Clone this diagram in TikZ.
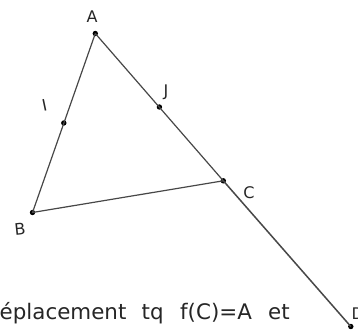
\documentclass[tikz,border=0pt]{standalone}
\usepackage{fontspec}
\setmainfont{DejaVu Sans}
\begin{document}
\begin{tikzpicture}[x=1pt,y=-1pt,
  seg/.style={draw=black!72,line width=1.2pt},
  pt/.style={circle,fill=black,inner sep=0pt,minimum size=5.4pt},
  lab/.style={inner sep=0pt,text=black!85,font=\fontsize{16}{18}\selectfont},
  txt/.style={inner sep=0pt,anchor=base west,text=black!85,font=\fontsize{21.4}{25}\selectfont}]
\useasboundingbox (0,0) rectangle (358,329);
\node[pt] (A) at (95.3,33.5) {};
\node[pt] (B) at (32.5,212.5) {};
\node[pt] (C) at (223.3,180.8) {};
\node[pt] (D) at (350.8,326.5) {};
\node[pt] (I) at (63.8,123) {};
\node[pt] (J) at (159.4,107) {};
\draw[seg] (A.center) -- (B.center) -- (C.center) -- (A.center);
\draw[seg,line width=1.5pt] (C.center) -- (D.center);
\node[lab] (lA) at (92,17) {A};
\node[lab,rotate=6] (lB) at (20,229.5) {B};
\node[lab] (lC) at (249,192.5) {C};
\node[lab,anchor=west] (lD) at (351.5,314) {D};
\node[lab,rotate=12] (lI) at (44.5,105.5) {I};
\node[lab] (lJ) at (166,92.5) {J};
\node[txt] (t1) at (-0.5,319) {éplacement};
\node[txt] (t2) at (141.5,319) {tq};
\node[txt] (t3) at (180,319) {f(C)=A};
\node[txt] (t4) at (268,319) {et};
\end{tikzpicture}
\end{document}
